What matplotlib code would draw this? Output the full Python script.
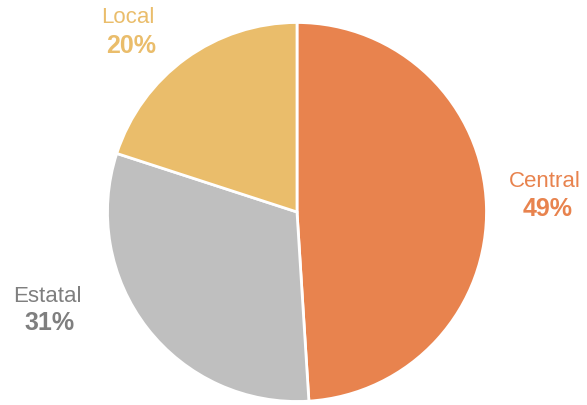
import matplotlib
matplotlib.use("Agg")
import matplotlib.pyplot as plt

categories = ["Central", "Estatal", "Local"]
values = [49, 31, 20]
pct_labels = ["49%", "31%", "20%"]
colors = ["#E8834E", "#BFBFBF", "#EABD6B"]
text_colors = ["#E8834E", "#7F7F7F", "#EABD6B"]

W, H = 587, 405
fig = plt.figure(figsize=(W / 100, H / 100), dpi=100)
ax = fig.add_axes([0, 0, 1, 1])
ax.pie(values, colors=colors, startangle=90, counterclock=False,
       center=(297, H - 212), radius=189.5,
       wedgeprops=dict(edgecolor="white", linewidth=2))
ax.set_xlim(0, W)
ax.set_ylim(0, H)
ax.set_aspect("equal")
ax.axis("off")

# label positions (pixel coords: x, baseline y of name, baseline y of pct)
label_pos = [(545, 187, 216), (47, 302, 330), (128, 23, 53)]
for (x, yn, yp), name, pct, c in zip(label_pos, categories, pct_labels, text_colors):
    ax.text(x, H - yn, name, ha="center", va="baseline", color=c,
            fontsize=16, family="Liberation Sans")
    ax.text(x + 3, H - yp, pct, ha="center", va="baseline", color=c,
            fontsize=18, fontweight="bold", family="Liberation Sans")

fig.savefig("out.png", dpi=100)
